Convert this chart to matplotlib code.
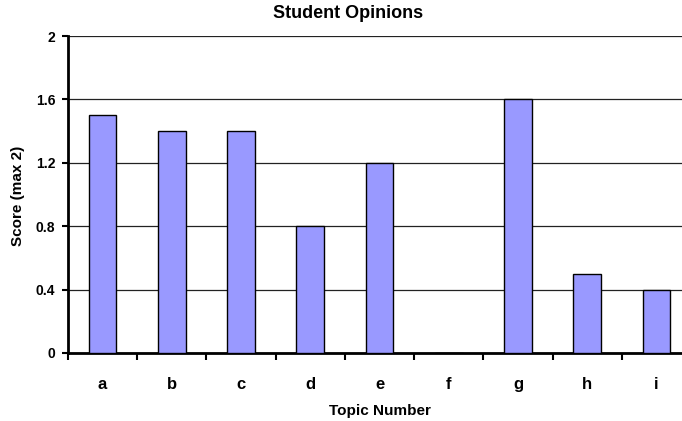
import matplotlib
matplotlib.use("Agg")
import matplotlib.pyplot as plt
import numpy as np

topics = ["a", "b", "c", "d", "e", "f", "g", "h", "i"]
scores = [1.5, 1.4, 1.4, 0.8, 1.2, 0.0, 1.6, 0.5, 0.4]
y_ticks = [0, 0.4, 0.8, 1.2, 1.6, 2]
y_tick_labels = ["0", "0.4", "0.8", "1.2", "1.6", "2"]

plt.rcParams["font.family"] = ["Liberation Sans", "DejaVu Sans"]

fig = plt.figure(figsize=(6.82, 4.21), dpi=100)
W, H = 682, 421
left, right, top, bottom = 68, 691, 36, 353
ax = fig.add_axes([left / W, 1 - bottom / H, (right - left) / W, (bottom - top) / H])

x = np.arange(len(topics))
ax.bar(x, scores, width=0.4, color="#9999FF", edgecolor="black", linewidth=1.0, zorder=3)

ax.set_xlim(-0.5, len(topics) - 0.5)
ax.set_ylim(0, 2)
ax.set_yticks(y_ticks)
ax.set_yticklabels(y_tick_labels, fontsize=10, fontweight="bold")
ax.yaxis.grid(True, color="#222222", linewidth=0.9, zorder=0)
ax.set_axisbelow(True)

# category labels centered, tick marks at category boundaries
ax.set_xticks(x)
ax.set_xticklabels(topics, fontsize=12, fontweight="bold")
ax.tick_params(axis="x", which="major", length=0, pad=17)
ax.set_xticks(np.arange(len(topics) + 1) - 0.5, minor=True)
ax.tick_params(axis="x", which="minor", length=5, width=1.5, direction="out")
ax.tick_params(axis="y", length=4, width=1.5, direction="out", pad=5)

for side in ("top", "right"):
    ax.spines[side].set_visible(False)
for side in ("left", "bottom"):
    ax.spines[side].set_linewidth(2)

fig.text(348 / W, 1 - 14 / H, "Student Opinions", ha="center", va="center",
         fontsize=13, fontweight="bold")
fig.text(380 / W, 1 - 411 / H, "Topic Number", ha="center", va="center",
         fontsize=11, fontweight="bold")
fig.text(18 / W, 1 - 196 / H, "Score (max 2)", ha="center", va="center",
         rotation=90, fontsize=11, fontweight="bold")

fig.savefig("out.png", dpi=100)
